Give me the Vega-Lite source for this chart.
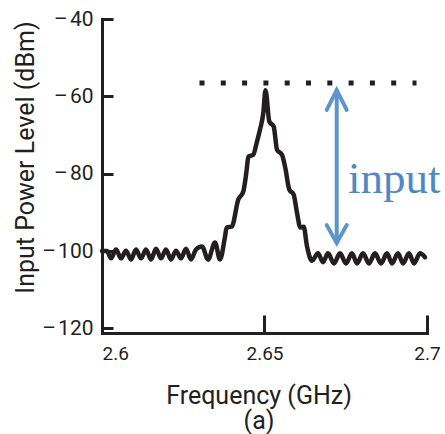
{
  "$schema": "https://vega.github.io/schema/vega-lite/v6.json",
  "width": 325,
  "height": 314,
  "autosize": "none",
  "padding": {"left": 102, "top": 19, "right": 18, "bottom": 101},
  "background": "white",
  "config": {"view": {"stroke": null}, "axis": {"grid": false}},
  "datasets": {
    "spectrum": [
      {"f": 2.6, "p": -100.0},
      {"f": 2.60154, "p": -100.0},
      {"f": 2.60277, "p": -101.9},
      {"f": 2.60431, "p": -99.6},
      {"f": 2.60585, "p": -101.9},
      {"f": 2.60738, "p": -99.9},
      {"f": 2.60892, "p": -102.2},
      {"f": 2.61046, "p": -99.6},
      {"f": 2.612, "p": -101.9},
      {"f": 2.61354, "p": -99.6},
      {"f": 2.61508, "p": -102.2},
      {"f": 2.61662, "p": -99.4},
      {"f": 2.61815, "p": -101.9},
      {"f": 2.61969, "p": -99.6},
      {"f": 2.62123, "p": -102.2},
      {"f": 2.62277, "p": -99.9},
      {"f": 2.62431, "p": -101.9},
      {"f": 2.62585, "p": -99.4},
      {"f": 2.62738, "p": -102.2},
      {"f": 2.62892, "p": -99.6},
      {"f": 2.63077, "p": -98.8},
      {"f": 2.63262, "p": -102.2},
      {"f": 2.63477, "p": -97.8},
      {"f": 2.63631, "p": -102.2},
      {"f": 2.63785, "p": -96.3},
      {"f": 2.63837, "p": -93.9},
      {"f": 2.63991, "p": -93.7},
      {"f": 2.64194, "p": -86.7},
      {"f": 2.64348, "p": -84.6},
      {"f": 2.64452, "p": -79.0},
      {"f": 2.64502, "p": -75.6},
      {"f": 2.64655, "p": -75.1},
      {"f": 2.6476, "p": -72.0},
      {"f": 2.64862, "p": -68.6},
      {"f": 2.64963, "p": -64.3},
      {"f": 2.65031, "p": -58.4},
      {"f": 2.65148, "p": -66.5},
      {"f": 2.65283, "p": -67.8},
      {"f": 2.65385, "p": -73.8},
      {"f": 2.65538, "p": -75.1},
      {"f": 2.6564, "p": -78.5},
      {"f": 2.65763, "p": -84.1},
      {"f": 2.65898, "p": -85.4},
      {"f": 2.66, "p": -90.1},
      {"f": 2.66102, "p": -93.9},
      {"f": 2.66206, "p": -93.7},
      {"f": 2.66308, "p": -98.8},
      {"f": 2.66462, "p": -102.5},
      {"f": 2.66646, "p": -100.6},
      {"f": 2.668, "p": -102.9},
      {"f": 2.66954, "p": -100.6},
      {"f": 2.67138, "p": -103.2},
      {"f": 2.67323, "p": -100.6},
      {"f": 2.67508, "p": -103.2},
      {"f": 2.67692, "p": -100.6},
      {"f": 2.67846, "p": -103.2},
      {"f": 2.68031, "p": -100.6},
      {"f": 2.68215, "p": -103.2},
      {"f": 2.684, "p": -100.6},
      {"f": 2.68585, "p": -103.2},
      {"f": 2.68769, "p": -100.6},
      {"f": 2.68923, "p": -103.2},
      {"f": 2.69108, "p": -100.6},
      {"f": 2.69262, "p": -103.2},
      {"f": 2.69446, "p": -100.6},
      {"f": 2.696, "p": -103.2},
      {"f": 2.69785, "p": -100.6},
      {"f": 2.69938, "p": -101.6}
    ],
    "level": [{"f": 2.63, "f2": 2.69677, "p": -56.55}],
    "shaft": [{"f": 2.67222, "p": -58.4, "p2": -97.9}],
    "heads": [
      {"part": "top", "o": 1, "f": 2.66914, "p": -63.5},
      {"part": "top", "o": 2, "f": 2.67222, "p": -58.4},
      {"part": "top", "o": 3, "f": 2.67529, "p": -63.5},
      {"part": "bottom", "o": 1, "f": 2.66914, "p": -93.3},
      {"part": "bottom", "o": 2, "f": 2.67222, "p": -97.9},
      {"part": "bottom", "o": 3, "f": 2.67529, "p": -93.3}
    ],
    "label": [{"f": 2.67569, "p": -84.9, "text": "input"}]
  },
  "layer": [
    {
      "data": {"name": "spectrum"},
      "mark": {"type": "line", "color": "#231f20", "strokeWidth": 4.5, "interpolate": "monotone", "strokeJoin": "round", "strokeCap": "round"},
      "encoding": {
        "x": {
          "field": "f", "type": "quantitative",
          "scale": {"domain": [2.6, 2.7], "nice": false, "zero": false},
          "axis": {
            "values": [2.6, 2.65, 2.7],
            "labelExpr": "format(datum.value, '.2~f')",
            "domainColor": "#231f20", "domainWidth": 3, "domainCap": "square",
            "tickColor": "#231f20", "tickWidth": 3, "tickSize": -18,
            "labelFont": "Roboto", "labelFontSize": 19, "labelColor": "#231f20",
            "labelPadding": 29,
            "labelAlign": {"condition": {"test": "datum.value <= 2.6", "value": "left"}, "value": "center"},
            "labelFlush": false,
            "title": ["Frequency (GHz)", "(a)"],
            "titleFont": "Roboto", "titleFontSize": 25, "titleFontWeight": "normal", "titleColor": "#231f20",
            "titleX": 156.5, "titleY": 70, "titleBaseline": "alphabetic", "titleAlign": "center", "titleLineHeight": 25
          }
        },
        "y": {
          "field": "p", "type": "quantitative",
          "scale": {"domain": [-121.2, -40], "nice": false, "zero": false},
          "axis": {
            "values": [-120, -100, -80, -60, -40],
            "labelExpr": "'\u2013\u200a' + abs(datum.value)",
            "domainColor": "#231f20", "domainWidth": 3, "domainCap": "square",
            "tickColor": "#231f20", "tickWidth": 3, "tickSize": -11,
            "labelFont": "Roboto", "labelFontSize": 21, "labelColor": "#231f20",
            "labelPadding": 20,
            "title": "Input Power Level (dBm)",
            "titleFont": "Roboto", "titleFontSize": 25, "titleFontWeight": "normal", "titleColor": "#231f20",
            "titleX": -77, "titleY": 138, "titleAngle": -90, "titleBaseline": "middle", "titleAlign": "center"
          }
        }
      }
    },
    {
      "data": {"name": "level"},
      "mark": {"type": "rule", "color": "#231f20", "strokeWidth": 5, "strokeDash": [5, 16.3], "strokeCap": "butt"},
      "encoding": {
        "x": {"field": "f", "type": "quantitative"},
        "x2": {"field": "f2"},
        "y": {"field": "p", "type": "quantitative"}
      }
    },
    {
      "data": {"name": "shaft"},
      "mark": {"type": "rule", "color": "#5b95cb", "strokeWidth": 4, "strokeCap": "round"},
      "encoding": {
        "x": {"field": "f", "type": "quantitative"},
        "y": {"field": "p", "type": "quantitative"},
        "y2": {"field": "p2"}
      }
    },
    {
      "data": {"name": "heads"},
      "mark": {"type": "line", "color": "#5b95cb", "strokeWidth": 4, "strokeCap": "round", "strokeJoin": "miter"},
      "encoding": {
        "x": {"field": "f", "type": "quantitative"},
        "y": {"field": "p", "type": "quantitative"},
        "detail": {"field": "part"},
        "order": {"field": "o"}
      }
    },
    {
      "data": {"name": "label"},
      "mark": {"type": "text", "color": "#4f88c6", "font": "Liberation Serif", "fontSize": 45, "align": "left", "baseline": "alphabetic"},
      "encoding": {
        "x": {"field": "f", "type": "quantitative"},
        "y": {"field": "p", "type": "quantitative"},
        "text": {"field": "text"}
      }
    }
  ]
}
